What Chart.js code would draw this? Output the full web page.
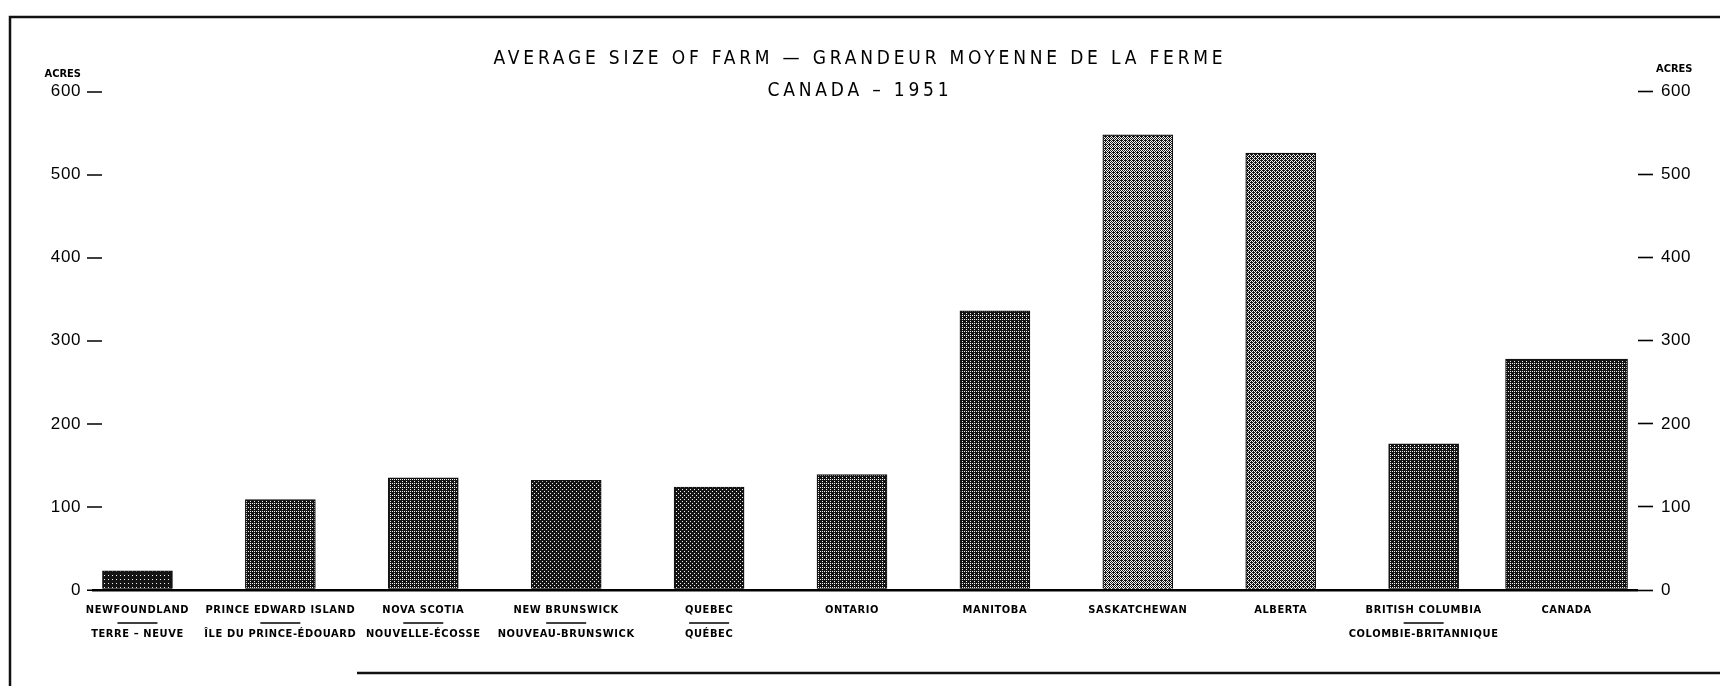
<!DOCTYPE html>
<html><head><meta charset="utf-8">
<script src="https://cdn.jsdelivr.net/npm/chart.js@4.4.1/dist/chart.umd.min.js"></script>
<style>html,body{margin:0;padding:0;background:#fff;} canvas{display:block;}</style>
</head><body>
<canvas id="c" width="1720" height="686"></canvas>
<script>
// ---- data ----
const categories = [
  ['NEWFOUNDLAND', 'TERRE – NEUVE'],
  ['PRINCE EDWARD ISLAND', 'ÎLE DU PRINCE-ÉDOUARD'],
  ['NOVA SCOTIA', 'NOUVELLE-ÉCOSSE'],
  ['NEW BRUNSWICK', 'NOUVEAU-BRUNSWICK'],
  ['QUEBEC', 'QUÉBEC'],
  'ONTARIO',
  'MANITOBA',
  'SASKATCHEWAN',
  'ALBERTA',
  ['BRITISH COLUMBIA', 'COLOMBIE-BRITANNIQUE'],
  'CANADA'
];
const averageAcres = [23, 109, 135, 132, 124, 139, 336, 548, 526, 176, 278];
const yTickValues = [0, 100, 200, 300, 400, 500, 600];
const titleText = 'AVERAGE SIZE OF FARM — GRANDEUR MOYENNE DE LA FERME';
const subtitleText = 'CANADA – 1951';
const unitLabel = 'ACRES';

// ---- styles ----
const barShades = [0.94, 0.8, 0.8, 0.9, 0.86, 0.82, 0.8, 0.55, 0.62, 0.82, 0.8];
const NARROW = "'Liberation Sans Narrow','DejaVu Sans Condensed','Roboto Condensed','Liberation Sans',sans-serif";
const REGULAR = "'Liberation Sans','Arial',sans-serif";

const canvas = document.getElementById('c');
const ctx0 = canvas.getContext('2d');
const bayer = [0, 8, 2, 10, 12, 4, 14, 6, 3, 11, 1, 9, 15, 7, 13, 5];
function makePattern(level) {
  const c = document.createElement('canvas');
  c.width = 4; c.height = 4;
  const g = c.getContext('2d');
  g.fillStyle = '#f4f4f4'; g.fillRect(0, 0, 4, 4);
  g.fillStyle = '#141414';
  for (let k = 0; k < 16; k++) {
    if ((bayer[k] + 0.5) / 16 < level) g.fillRect(k % 4, Math.floor(k / 4), 1, 1);
  }
  return ctx0.createPattern(c, 'repeat');
}
const patterns = barShades.map(makePattern);
const lastIdx = categories.length - 1;

const decor = {
  id: 'decor',
  beforeDraw(chart) {
    const ctx = chart.ctx;
    ctx.save();
    ctx.fillStyle = '#fff';
    ctx.fillRect(0, 0, chart.width, chart.height);
    ctx.strokeStyle = '#111';
    ctx.lineWidth = 2.5;
    ctx.beginPath();
    ctx.moveTo(10, chart.height); ctx.lineTo(10, 17); ctx.lineTo(chart.width, 17);
    ctx.moveTo(357, 673); ctx.lineTo(chart.width, 673);
    ctx.stroke();
    ctx.restore();
    ctx.letterSpacing = '3.8px';
  },
  beforeDatasetsDraw(chart) {
    chart.ctx.letterSpacing = '0.6px';
  },
  afterDraw(chart) {
    const ctx = chart.ctx;
    const xs = chart.scales.x, ys = chart.scales.y;
    ctx.save();
    ctx.letterSpacing = '0px';
    ctx.fillStyle = '#000';
    ctx.font = "bold 11px " + NARROW;
    ctx.textBaseline = 'middle';
    const topY = ys.getPixelForValue(yTickValues[yTickValues.length - 1]);
    ctx.textAlign = 'right';
    ctx.fillText(unitLabel, 81, topY - 17);
    ctx.textAlign = 'left';
    ctx.fillText(unitLabel, 1656, topY - 22);
    // separator rules between English and French names
    ctx.strokeStyle = '#000';
    ctx.lineWidth = 1.4;
    categories.forEach((lab, i) => {
      if (Array.isArray(lab) && lab.length > 1) {
        const cx = xs.getPixelForValue(i);
        const y = xs.top + 33;
        ctx.beginPath();
        ctx.moveTo(cx - 20, y); ctx.lineTo(cx + 20, y);
        ctx.stroke();
      }
    });
    ctx.restore();
  }
};

new Chart(canvas, {
  type: 'bar',
  data: {
    labels: categories,
    datasets: [
      {
        data: averageAcres.map((v, i) => i === lastIdx ? null : v),
        backgroundColor: patterns,
        borderColor: '#111',
        borderWidth: 1.2,
        barThickness: 70,
        grouped: false,
        yAxisID: 'y'
      },
      {
        data: averageAcres.map((v, i) => i === lastIdx ? v : null),
        backgroundColor: patterns,
        borderColor: '#111',
        borderWidth: 1.2,
        barThickness: 122,
        grouped: false,
        yAxisID: 'y'
      }
    ]
  },
  options: {
    responsive: false,
    animation: false,
    devicePixelRatio: 1,
    layout: { padding: { left: 0, right: 0, top: 0, bottom: 40 } },
    plugins: {
      legend: { display: false },
      tooltip: { enabled: false },
      title: {
        display: true, text: titleText, color: '#000',
        font: { family: NARROW, size: 19, weight: 'normal', lineHeight: 1.2 },
        padding: { top: 48, bottom: 0 }
      },
      subtitle: {
        display: true, text: subtitleText, color: '#000',
        font: { family: NARROW, size: 19, weight: 'normal', lineHeight: 1.2 },
        padding: { top: 9, bottom: -11 }
      }
    },
    scales: {
      x: {
        type: 'category',
        offset: true,
        grid: { display: false, drawTicks: false },
        border: { display: false },
        ticks: {
          color: '#000', padding: 8, maxRotation: 0, autoSkip: false, z: 1,
          font: { family: NARROW, size: 11, weight: 'bold', lineHeight: 24 / 11 }
        },
        afterFit(s) { s.height = 56; }
      },
      yLeftSpace: {
        axis: 'y',
        position: 'left',
        grid: { display: false },
        border: { display: false },
        ticks: { display: false },
        afterFit(s) { s.width = 66; }
      },
      y: {
        axis: 'y',
        position: { x: -0.395 },
        min: 0, max: 600,
        afterBuildTicks(s) { s.ticks = yTickValues.map(v => ({ value: v })); },
        grid: {
          z: 1,
          drawOnChartArea: true,
          color: (c) => (c.tick && c.tick.value === 0) ? '#000' : 'rgba(0,0,0,0)',
          lineWidth: (c) => (c.tick && c.tick.value === 0) ? 2.5 : 0,
          drawTicks: true, tickLength: -21, tickWidth: 1.6, tickColor: '#000',
          tickBorderDash: [0, 6, 15, 100]
        },
        border: { display: false, dash: [0, 26, 4000] },
        ticks: { color: '#000', z: 1, font: { family: REGULAR, size: 17 } }
      },
      y2: {
        axis: 'y',
        position: 'right',
        min: 0, max: 600,
        afterBuildTicks(s) { s.ticks = yTickValues.map(v => ({ value: v })); },
        grid: { drawOnChartArea: false, drawTicks: true, tickLength: 15, tickWidth: 1.6, tickColor: '#000' },
        border: { display: false },
        ticks: { color: '#000', padding: 8, z: 1, font: { family: REGULAR, size: 17 } },
        afterFit(s) { s.width = 82; }
      }
    }
  },
  plugins: [decor]
});
</script>
</body></html>
